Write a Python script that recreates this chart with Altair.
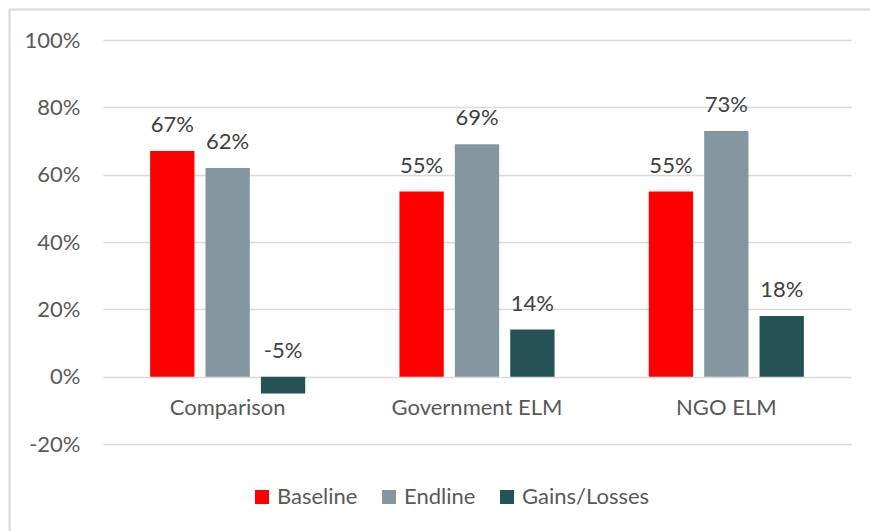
import altair as alt
import pandas as pd

categories = ["Comparison", "Government ELM", "NGO ELM"]
series = ["Baseline", "Endline", "Gains/Losses"]
baseline = [67, 55, 55]
endline = [62, 69, 73]
gains = [-5, 14, 18]
y_ticks = [-20, 0, 20, 40, 60, 80, 100]
colors = ["#FF0000", "#8497A0", "#255254"]

rows = []
for s, vals in zip(series, [baseline, endline, gains]):
    for c, v in zip(categories, vals):
        rows.append({"category": c, "series": s, "value": v})
df = pd.DataFrame(rows)
cat_df = pd.DataFrame({"category": categories})

FONT = "Lato"
FS = 22

x_enc = alt.X("category:N", sort=categories,
              scale=alt.Scale(paddingInner=0.378, paddingOuter=0.189), axis=None)
xoff_enc = alt.XOffset("series:N", sort=series,
                       scale=alt.Scale(paddingInner=0.2, paddingOuter=0))
y_scale = alt.Scale(domain=[-20, 100], nice=False)

bars = alt.Chart(df).mark_bar().encode(
    x=x_enc,
    xOffset=xoff_enc,
    y=alt.Y("value:Q", scale=y_scale,
            axis=alt.Axis(values=y_ticks, labelExpr="datum.value + '%'",
                          grid=True, gridColor="#D9D9D9", gridWidth=1.5,
                          domain=False, ticks=False, labelPadding=23,
                          labelFontSize=FS, labelFont=FONT, labelColor="#595959",
                          title=None)),
    color=alt.Color("series:N", sort=series,
                    scale=alt.Scale(domain=series, range=colors),
                    legend=alt.Legend(title=None, orient="none", direction="horizontal",
                                      legendX=148, legendY=446, padding=0,
                                      symbolType="square", symbolSize=196,
                                      symbolStrokeWidth=0, labelFontSize=FS,
                                      labelFont=FONT, labelColor="#595959",
                                      columnPadding=20, labelOffset=4)),
)

labels = alt.Chart(df).transform_calculate(
    label_y="max(datum.value, 0)",
    label="datum.value + '%'",
).mark_text(font=FONT, fontSize=FS, color="#404040", baseline="alphabetic", dy=-19).encode(
    x=x_enc,
    xOffset=xoff_enc,
    y=alt.Y("label_y:Q", scale=y_scale),
    text="label:N",
)

cat_labels = alt.Chart(cat_df).mark_text(
    font=FONT, fontSize=FS, color="#595959", baseline="alphabetic", dy=38
).encode(
    x=x_enc,
    y=alt.datum(0),
    text="category:N",
)

frame_top = alt.Chart(cat_df).mark_rule(color="#D9D9D9", strokeWidth=1.5).encode(
    x=alt.value(-93.5), x2=alt.value(800), y=alt.value(-30.5)
)
frame_left = alt.Chart(cat_df).mark_rule(color="#D9D9D9", strokeWidth=1.5).encode(
    x=alt.value(-93.5), y=alt.value(-30.5), y2=alt.value(520)
)

chart = alt.layer(frame_top, frame_left, bars, labels, cat_labels).properties(
    width=748, height=404,
    autosize=alt.AutoSizeParams(type="none"),
    padding={"left": 103, "top": 40, "right": 19, "bottom": 87},
    background="white",
).configure_view(stroke=None)

chart.save("out.html", embed_options={"renderer": "svg", "actions": False})
